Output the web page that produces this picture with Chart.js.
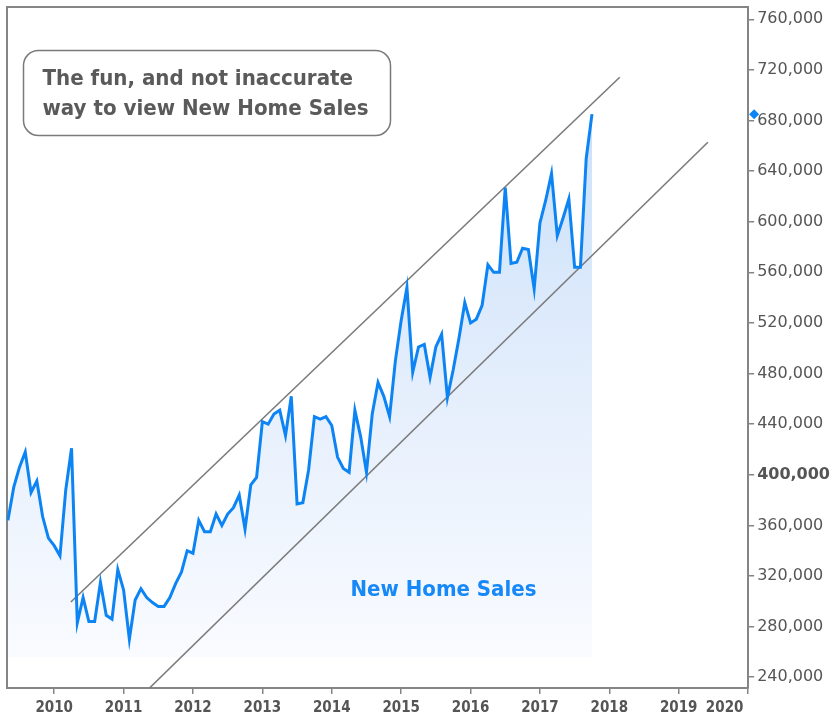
<!DOCTYPE html>
<html>
<head>
<meta charset="utf-8">
<script src="https://cdn.jsdelivr.net/npm/chart.js@4.4.0/dist/chart.umd.min.js"></script>
<style>
html,body{margin:0;padding:0;background:#fff;}
#wrap{width:837px;height:723px;position:relative;}
</style>
</head>
<body>
<div id="wrap"><canvas id="c" width="837" height="723"></canvas></div>
<script>
// New home sales, seasonally adjusted annual rate, thousands (monthly)
const startYear = 2009;
const startMonth = 5; // first value is May 2009
const sales2009 = [364, 390, 406, 418, 386, 395, 367, 350];            // May–Dec
const sales2010 = [344, 336, 388, 421, 283, 303, 284, 284, 315, 289, 286, 325];
const sales2011 = [309, 270, 301, 310, 303, 299, 296, 296, 303, 314, 323, 340];
const sales2012 = [338, 364, 355, 355, 369, 360, 369, 374, 384, 357, 392, 398];
const sales2013 = [442, 440, 448, 451, 431, 462, 377, 378, 404, 446, 444, 446];
const sales2014 = [439, 414, 405, 402, 451, 430, 402, 448, 473, 462, 446, 490];
const sales2015 = [522, 548, 481, 501, 503, 477, 501, 511, 461, 483, 508, 536];
const sales2016 = [520, 523, 534, 566, 560, 560, 627, 567, 568, 579, 578, 547];
const sales2017 = [599, 617, 638, 589, 603, 618, 564, 564, 650, 685];   // Jan–Oct

// Trend channel (decimal year, units)
const upperChannelX = [2010.24, 2018.15];
const upperChannelY = [299500, 714200];
const lowerChannelX = [2011.37, 2019.42];
const lowerChannelY = [231300, 662800];

// Tick labels
const yearTicks = [2010, 2011, 2012, 2013, 2014, 2015, 2016, 2017, 2018, 2019, 2020];
const valueTicks = [240000, 280000, 320000, 360000, 400000, 440000, 480000, 520000, 560000, 600000, 640000, 680000, 720000, 760000];

const titleLines = ['The fun, and not inaccurate', 'way to view New Home Sales'];
const seriesLabel = 'New Home Sales';

// ---- build ----
const allSales = [].concat(sales2009, sales2010, sales2011, sales2012, sales2013, sales2014, sales2015, sales2016, sales2017);
const salesPoints = allSales.map((v, i) => ({ x: startYear + (startMonth - 1 + i) / 12, y: v * 1000 }));
const upperPoints = upperChannelX.map((x, i) => ({ x, y: upperChannelY[i] }));
const lowerPoints = lowerChannelX.map((x, i) => ({ x, y: lowerChannelY[i] }));
const lastValue = allSales[allSales.length - 1] * 1000;

const BLUE = '#0d84f4';
const GREY = '#858585';
const TEXT = '#555555';
const condensed = "'DejaVu Sans Condensed', 'Liberation Sans Narrow', 'DejaVu Sans', sans-serif";

const fillGradient = (ctx) => {
  const chart = ctx.chart;
  const area = chart.chartArea;
  if (!area) return 'rgba(210,230,250,0.7)';
  const ys = chart.scales.y;
  const top = ys.getPixelForValue(690000);
  const bot = ys.getPixelForValue(255800);
  const g = chart.ctx.createLinearGradient(0, top, 0, bot);
  g.addColorStop(0, '#c9e0fa');
  g.addColorStop(0.5, '#e4eefc');
  g.addColorStop(1, '#f9fbff');
  return g;
};

const decorPlugin = {
  id: 'decor',
  beforeDatasetsDraw(chart) {
    const { ctx, chartArea: a } = chart;
    ctx.save();
    ctx.strokeStyle = GREY;
    ctx.lineWidth = 2;
    ctx.beginPath();
    ctx.moveTo(a.left, a.bottom);
    ctx.lineTo(a.left, a.top);
    ctx.lineTo(a.right, a.top);
    ctx.stroke();
    ctx.restore();
  },
  afterDatasetsDraw(chart) {
    const { ctx, chartArea: a, scales } = chart;
    ctx.save();
    // series label
    ctx.font = "bold 22px " + condensed;
    ctx.fillStyle = '#1688f8';
    ctx.textAlign = 'center';
    ctx.textBaseline = 'alphabetic';
    ctx.fillText(seriesLabel, scales.x.getPixelForValue(2015.61), scales.y.getPixelForValue(304000));

    // title box
    const bx = a.left + 16.5, by = 50.5, bw = 367, bh = 85, r = 15;
    ctx.beginPath();
    ctx.moveTo(bx + r, by);
    ctx.lineTo(bx + bw - r, by);
    ctx.arcTo(bx + bw, by, bx + bw, by + r, r);
    ctx.lineTo(bx + bw, by + bh - r);
    ctx.arcTo(bx + bw, by + bh, bx + bw - r, by + bh, r);
    ctx.lineTo(bx + r, by + bh);
    ctx.arcTo(bx, by + bh, bx, by + bh - r, r);
    ctx.lineTo(bx, by + r);
    ctx.arcTo(bx, by, bx + r, by, r);
    ctx.closePath();
    ctx.fillStyle = '#ffffff';
    ctx.fill();
    ctx.strokeStyle = '#7a7a7a';
    ctx.lineWidth = 1.5;
    ctx.stroke();

    ctx.font = "bold 100px " + condensed;
    const w = ctx.measureText(titleLines[1]).width;
    const size = Math.min(24, 326 / w * 100);
    ctx.font = "bold " + size.toFixed(2) + "px " + condensed;
    ctx.fillStyle = '#5a5a5a';
    ctx.textAlign = 'left';
    ctx.fillText(titleLines[0], bx + 19, 85);
    ctx.fillText(titleLines[1], bx + 19, 115);
    ctx.restore();
  },
  afterDraw(chart) {
    const { ctx, chartArea: a, scales } = chart;
    const y = scales.y.getPixelForValue(lastValue);
    const x = a.right + 6;
    ctx.save();
    ctx.fillStyle = BLUE;
    ctx.beginPath();
    ctx.moveTo(x, y - 5);
    ctx.lineTo(x + 5, y);
    ctx.lineTo(x, y + 5);
    ctx.lineTo(x - 5, y);
    ctx.closePath();
    ctx.fill();
    ctx.restore();
  }
};

new Chart(document.getElementById('c'), {
  type: 'line',
  data: {
    datasets: [
      {
        label: seriesLabel,
        data: salesPoints,
        borderColor: BLUE,
        borderWidth: 3,
        pointRadius: 0,
        tension: 0,
        fill: { value: 255800 },
        backgroundColor: fillGradient,
        order: 1
      },
      {
        label: 'Upper channel',
        data: upperPoints,
        borderColor: '#7b7b7b',
        borderWidth: 1.6,
        pointRadius: 0,
        fill: false,
        order: 2
      },
      {
        label: 'Lower channel',
        data: lowerPoints,
        borderColor: '#7b7b7b',
        borderWidth: 1.6,
        pointRadius: 0,
        fill: false,
        order: 2
      }
    ]
  },
  options: {
    responsive: false,
    animation: false,
    devicePixelRatio: 1,
    layout: { padding: { left: 7, top: 7, right: 4, bottom: 0 } },
    plugins: {
      legend: { display: false },
      tooltip: { enabled: false },
      filler: { drawTime: 'beforeDatasetsDraw' }
    },
    scales: {
      x: {
        type: 'linear',
        min: 2009.32,
        max: 2020,
        afterBuildTicks: (s) => { s.ticks = yearTicks.map(v => ({ value: v })); },
        ticks: {
          autoSkip: false,
          maxRotation: 0,
          padding: 7,
          color: TEXT,
          font: { family: condensed, size: 15, weight: 'bold', lineHeight: 1.0 },
          callback: (v) => v === 2020 ? '2020\u00a0\u00a0\u00a0\u00a0\u00a0\u00a0\u00a0\u00a0\u00a0\u00a0' : String(v)
        },
        grid: { drawOnChartArea: false, drawTicks: true, tickLength: 6, color: GREY, lineWidth: 1.5 },
        border: { display: true, color: GREY, width: 2 }
      },
      y: {
        position: 'right',
        min: 231500,
        max: 769700,
        afterBuildTicks: (s) => { s.ticks = valueTicks.map(v => ({ value: v })); },
        ticks: {
          padding: 3,
          color: TEXT,
          font: (c) => ({ family: "'DejaVu Sans', Verdana, sans-serif", size: 16, lineHeight: 0.5, weight: (c.tick && c.tick.value === 400000) ? 'bold' : 'normal' }),
          callback: (v) => Number(v).toLocaleString('en-US')
        },
        grid: { drawOnChartArea: false, drawTicks: true, tickLength: 6, color: GREY, lineWidth: 1.5 },
        border: { display: true, color: GREY, width: 2 }
      }
    }
  },
  plugins: [decorPlugin]
});
</script>
</body>
</html>
